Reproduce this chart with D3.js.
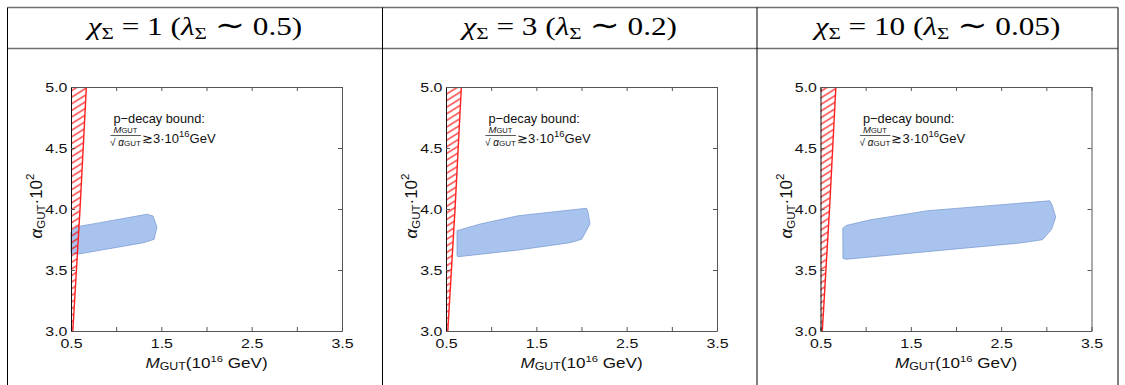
<!DOCTYPE html>
<html>
<head>
<meta charset="utf-8">
<script src="https://cdn.jsdelivr.net/npm/d3@7"></script>
<style>
  body { margin: 0; background: #fff; }
  svg { display: block; }
</style>
</head>
<body>
<svg id="chart" width="1125" height="385"></svg>
<script>
// ---- data ----
const chiValues = [1, 3, 10];
const lambdaLabels = ["0.5", "0.2", "0.05"];

const xTickValues = [0.5, 1.0, 1.5, 2.0, 2.5, 3.0, 3.5];
const xTickLabels = [0.5, 1.5, 2.5, 3.5];
const yTickValues = [3.0, 3.5, 4.0, 4.5, 5.0];

// p-decay bound line  M_GUT / sqrt(alpha) = 3e16
const boundM = [0.52, 0.60, 0.67];
const boundAlpha = [3.0, 4.0, 5.0];

// allowed regions (M_GUT, alpha*100)
const region1 = [
  [0.50, 3.81], [0.566, 3.855], [0.824, 3.888], [1.34, 3.957], [1.407, 3.943],
  [1.451, 3.855], [1.421, 3.752], [1.303, 3.724], [0.584, 3.631], [0.50, 3.64]
];
const region2 = [
  [0.622, 3.822], [0.879, 3.877], [1.302, 3.945], [2.057, 4.006], [2.075, 3.965],
  [2.094, 3.877], [2.002, 3.752], [1.873, 3.724], [1.302, 3.664], [0.633, 3.609],
  [0.622, 3.617]
];
const region3 = [
  [0.747, 3.842], [0.785, 3.865], [1.043, 3.910], [1.686, 3.986], [3.038, 4.067],
  [3.063, 4.033], [3.104, 3.934], [3.057, 3.832], [2.957, 3.748], [2.705, 3.721],
  [1.671, 3.650], [0.785, 3.588], [0.749, 3.596]
];
const regions = [region1, region2, region3];

// ---- layout ----
const width = 1125, height = 385;
const colEdges = [7.5, 382.5, 757, 1118];
const tableTop = 7.5, headerBottom = 48.5;
const plotOffset = 63.5, plotWidth = 271;
const plotTop = 87, plotBottom = 331;
const stretch = 1.18;   // the original figure is a little stretched sideways

const svg = d3.select('#chart');
svg.append('rect').attr('width', width).attr('height', height).attr('fill', '#fff');

const defs = svg.append('defs');
const pat = defs.append('pattern')
    .attr('id', 'hatch')
    .attr('patternUnits', 'userSpaceOnUse')
    .attr('width', 12).attr('height', 5.6)
    .attr('patternTransform', 'rotate(-32)');
pat.append('line')
    .attr('x1', 0).attr('x2', 12).attr('y1', 2.8).attr('y2', 2.8)
    .attr('stroke', '#ff0000').attr('stroke-width', 1.1);

// table
const table = svg.append('g');
[tableTop, headerBottom].forEach(y => {
  table.append('line')
    .attr('x1', colEdges[0]).attr('x2', colEdges[3])
    .attr('y1', y).attr('y2', y)
    .attr('stroke', '#707070').attr('stroke-width', 1.4);
});
colEdges.forEach(x => {
  table.append('line')
    .attr('x1', x).attr('x2', x)
    .attr('y1', tableTop).attr('y2', height + 2)
    .attr('stroke', '#000').attr('stroke-width', 1);
});

// headers
chiValues.forEach((chi, i) => {
  const cx = (colEdges[i] + colEdges[i + 1]) / 2;
  const t = svg.append('text')
      .attr('transform', `translate(${cx},35) scale(1.25,1)`)
      .attr('text-anchor', 'middle')
      .attr('font-family', '"Liberation Serif", "DejaVu Serif", serif')
      .attr('font-size', 25)
      .attr('fill', '#000');
  t.append('tspan').attr('font-style', 'italic').text('χ');
  t.append('tspan').attr('font-size', 17).attr('dy', 4).text('Σ');
  t.append('tspan').attr('dy', -4).text(' = ' + chi + ' (');
  t.append('tspan').attr('font-style', 'italic').text('λ');
  t.append('tspan').attr('font-size', 17).attr('dy', 4).text('Σ');
  t.append('tspan').attr('dy', -4).text(' ');
  t.append('tspan').attr('font-size', 29).text('∼');
  t.append('tspan').text(' ' + lambdaLabels[i] + ')');
});

const sans = '"Liberation Sans", Arial, sans-serif';

regions.forEach((region, i) => {
  const left = colEdges[i] + plotOffset;
  const x = d3.scaleLinear().domain([0.5, 3.5]).range([left, left + plotWidth]);
  const y = d3.scaleLinear().domain([3, 5]).range([plotBottom, plotTop]);
  const g = svg.append('g');

  // allowed region
  g.append('path')
    .datum(region)
    .attr('d', d3.line().x(d => x(d[0])).y(d => y(d[1])).curve(d3.curveLinearClosed))
    .attr('fill', '#a8c4ee')
    .attr('stroke', '#7f9dd3')
    .attr('stroke-width', 0.8);

  // excluded by p-decay (hatched)
  const bound = boundM.map((m, k) => [m, boundAlpha[k]]);
  const excluded = [[0.5, boundAlpha[0]]].concat(bound, [[0.5, boundAlpha[boundAlpha.length - 1]]]);
  g.append('path')
    .datum(excluded)
    .attr('d', d3.line().x(d => x(d[0])).y(d => y(d[1])).curve(d3.curveLinearClosed))
    .attr('fill', 'url(#hatch)');
  g.append('path')
    .datum(bound)
    .attr('d', d3.line().x(d => x(d[0])).y(d => y(d[1])))
    .attr('fill', 'none')
    .attr('stroke', '#ff2020')
    .attr('stroke-width', 1.4);

  // frame + axes
  const fmt = d => xTickLabels.includes(d) ? d3.format('.1f')(d) : '';
  const bottom = g.append('g')
      .attr('transform', `translate(0,${plotBottom})`)
      .call(d3.axisBottom(x).tickValues(xTickValues).tickFormat(fmt)
        .tickSizeInner(-4).tickSizeOuter(0).tickPadding(7));
  const top = g.append('g')
      .attr('transform', `translate(0,${plotTop})`)
      .call(d3.axisTop(x).tickValues(xTickValues).tickFormat('')
        .tickSizeInner(-4).tickSizeOuter(0));
  const leftAx = g.append('g')
      .attr('transform', `translate(${left},0)`)
      .call(d3.axisLeft(y).tickValues(yTickValues).tickFormat(d3.format('.1f'))
        .tickSizeInner(-4).tickSizeOuter(0).tickPadding(3));
  const rightAx = g.append('g')
      .attr('transform', `translate(${left + plotWidth},0)`)
      .call(d3.axisRight(y).tickValues(yTickValues).tickFormat('')
        .tickSizeInner(-4).tickSizeOuter(0));

  [bottom, top, leftAx, rightAx].forEach(ax => {
    ax.selectAll('.domain').attr('stroke', '#555').attr('stroke-width', 1);
    ax.selectAll('.tick line').attr('stroke', '#555');
    ax.selectAll('text')
      .attr('font-family', sans)
      .attr('font-size', 13.5)
      .attr('fill', '#111')
      .attr('transform', `scale(${stretch},1)`);
  });
  leftAx.select('.domain').attr('stroke', '#111');

  // axis titles
  const xt = g.append('text')
      .attr('transform', `translate(${left + plotWidth / 2},368) scale(${stretch},1)`)
      .attr('text-anchor', 'middle')
      .attr('font-family', sans).attr('font-size', 14.5).attr('fill', '#111');
  xt.append('tspan').attr('font-style', 'italic').text('M');
  xt.append('tspan').attr('font-size', 10.5).attr('dy', 2).text('GUT');
  xt.append('tspan').attr('dy', -2).text('(10');
  xt.append('tspan').attr('font-size', 9.5).attr('dy', -6).text('16');
  xt.append('tspan').attr('dy', 6).text(' GeV)');

  const yt = g.append('text')
      .attr('transform', `translate(${left - 29},${(plotTop + plotBottom) / 2 - 3}) rotate(-90)`)
      .attr('text-anchor', 'middle')
      .attr('font-family', sans).attr('font-size', 17).attr('fill', '#111');
  yt.append('tspan').attr('font-style', 'italic').text('α');
  yt.append('tspan').attr('font-size', 11.5).attr('dy', 3).text('GUT');
  yt.append('tspan').attr('dy', -3).text('·10');
  yt.append('tspan').attr('font-size', 11.5).attr('dy', -8).text('2');

  // annotation
  const ax0 = x(0.97), ay0 = y(4.705);
  g.append('text')
    .attr('x', ax0).attr('y', ay0)
    .attr('font-family', sans).attr('font-size', 12.8).attr('fill', '#111')
    .text('p\u2212decay bound:');
  g.append('text')
    .attr('x', ax0 + 12).attr('y', ay0 + 10.5)
    .attr('text-anchor', 'middle')
    .attr('font-family', sans).attr('font-size', 9.5).attr('fill', '#111')
    .call(t => {
      t.append('tspan').attr('font-style', 'italic').text('M');
      t.append('tspan').attr('font-size', 7.5).text('GUT');
    });
  g.append('line')
    .attr('x1', ax0 - 3).attr('x2', ax0 + 27.5)
    .attr('y1', ay0 + 12.5).attr('y2', ay0 + 12.5)
    .attr('stroke', '#111').attr('stroke-width', 0.7);
  g.append('text')
    .attr('x', ax0 + 12).attr('y', ay0 + 23.5)
    .attr('text-anchor', 'middle')
    .attr('font-family', sans).attr('font-size', 10).attr('fill', '#111')
    .call(t => {
      t.append('tspan').text('√ ');
      t.append('tspan').attr('font-style', 'italic').text('α');
      t.append('tspan').attr('font-size', 8).text('GUT');
    });
  const rhs = g.append('text')
      .attr('x', ax0 + 28.5).attr('y', ay0 + 20.5)
      .attr('font-family', sans).attr('font-size', 13).attr('fill', '#111');
  rhs.append('tspan').text('≳3·10');
  rhs.append('tspan').attr('font-size', 9.5).attr('dy', -6).text('16');
  rhs.append('tspan').attr('dy', 6).text('GeV');
});
</script>
</body>
</html>
